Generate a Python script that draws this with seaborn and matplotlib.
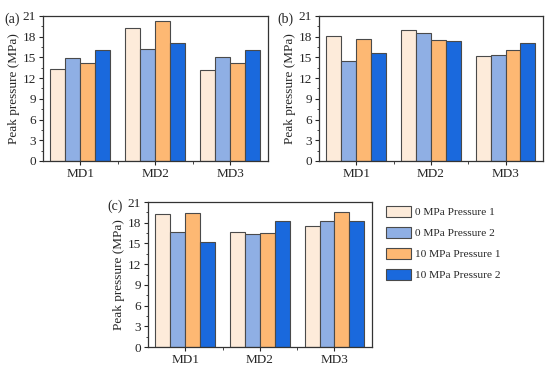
import matplotlib
matplotlib.use("Agg")
import matplotlib.pyplot as plt
from matplotlib.ticker import MultipleLocator
import pandas as pd
import seaborn as sns

# ── Data ──────────────────────────────────────────────────────────────────────
categories = ["MD1", "MD2", "MD3"]
series = ["0 MPa Pressure 1", "0 MPa Pressure 2", "10 MPa Pressure 1", "10 MPa Pressure 2"]
colours = ["#FDEBDA", "#8FAFE4", "#FDB873", "#1A69DD"]

panel_a = {
    "0 MPa Pressure 1":  [13.3, 19.3, 13.2],
    "0 MPa Pressure 2":  [14.9, 16.2, 15.0],
    "10 MPa Pressure 1": [14.2, 20.3, 14.2],
    "10 MPa Pressure 2": [16.1, 17.1, 16.1],
}
panel_b = {
    "0 MPa Pressure 1":  [18.1, 19.0, 15.2],
    "0 MPa Pressure 2":  [14.5, 18.5, 15.4],
    "10 MPa Pressure 1": [17.7, 17.5, 16.0],
    "10 MPa Pressure 2": [15.6, 17.4, 17.1],
}
panel_c = {
    "0 MPa Pressure 1":  [19.2, 16.6, 17.6],
    "0 MPa Pressure 2":  [16.7, 16.3, 18.2],
    "10 MPa Pressure 1": [19.4, 16.5, 19.6],
    "10 MPa Pressure 2": [15.2, 18.3, 18.3],
}


def to_long(panel):
    rows = []
    for s in series:
        for cat, v in zip(categories, panel[s]):
            rows.append({"cat": cat, "series": s, "value": v})
    return pd.DataFrame(rows)


sns.set_style("ticks")
plt.rcParams["font.family"] = ["Liberation Serif", "DejaVu Serif"]
plt.rcParams["font.size"] = 10

fig = plt.figure(figsize=(5.5, 3.7), dpi=100)
positions = {
    "(a)": [0.078, 0.565, 0.409, 0.392],
    "(b)": [0.580, 0.565, 0.407, 0.392],
    "(c)": [0.269, 0.062, 0.407, 0.392],
}
label_xy = {"(a)": (0.008, 0.965), "(b)": (0.505, 0.965), "(c)": (0.196, 0.462)}

for tag, panel in zip(positions, [panel_a, panel_b, panel_c]):
    ax = fig.add_axes(positions[tag])
    sns.barplot(data=to_long(panel), x="cat", y="value", hue="series",
                hue_order=series, palette=colours, order=categories,
                edgecolor="#4a4a4a", linewidth=0.8, width=0.8,
                saturation=1, ax=ax, legend=(tag == "(c)"))
    ax.set_ylim(0, 21)
    ax.set_xlim(-0.5, 2.5)
    ax.yaxis.set_major_locator(MultipleLocator(3))
    ax.yaxis.set_minor_locator(MultipleLocator(1.5))
    ax.set_xticks([0, 1, 2])
    ax.set_xticks([0.5, 1.5], minor=True)
    ax.tick_params(axis="both", which="major", direction="out", length=3,
                   width=0.8, labelsize=9.5, pad=2)
    ax.tick_params(axis="both", which="minor", direction="out", length=1.8, width=0.6)
    ax.set_xlabel("")
    ax.set_ylabel("Peak pressure (MPa)", fontsize=9.5, labelpad=2)
    for sp in ax.spines.values():
        sp.set_visible(True)
        sp.set_linewidth(0.9)
        sp.set_color("#333333")
    fig.text(*label_xy[tag], tag, fontsize=10, va="top")

    if tag == "(c)":
        handles, labels = ax.get_legend_handles_labels()
        ax.get_legend().remove()
        fig.legend(handles, labels, loc="upper left",
                   bbox_to_anchor=(0.683, 0.472), frameon=False,
                   fontsize=8.2, handlelength=2.2, handleheight=1.1,
                   labelspacing=0.85, handletextpad=0.35)

fig.savefig("out.png", dpi=100)
